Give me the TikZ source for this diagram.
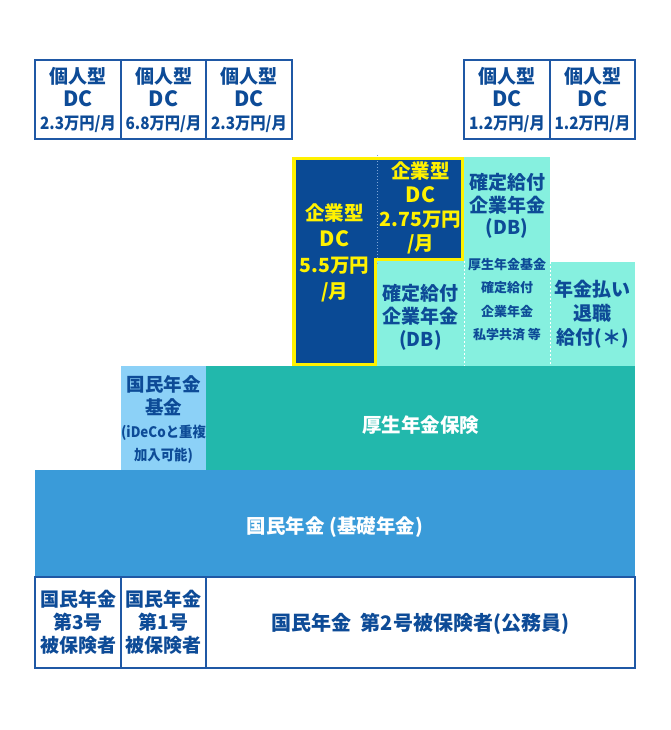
\documentclass[tikz,border=0pt]{standalone}
\usepackage{fontspec}
\usepackage{graphicx}
\newfontfamily\jp{Noto Sans CJK JP}
\definecolor{navytxt}{HTML}{0D4B97}
\definecolor{darkbox}{HTML}{0A4A95}
\definecolor{ylw}{HTML}{FFF100}
\definecolor{mint}{HTML}{86F0DF}
\definecolor{teal2}{HTML}{22B8AC}
\definecolor{ltblue}{HTML}{8CD1F7}
\definecolor{bandblue}{HTML}{3A9BD9}
\definecolor{boxline}{HTML}{1F58A5}
\definecolor{dotline}{HTML}{7FA6D8}
\newcommand\smtxt[1]{{\fontsize{17}{18}\selectfont\scalebox{0.9}[1]{#1}}}
\newcommand\tinytxt[1]{{\fontsize{14.5}{16}\selectfont\scalebox{0.92}[1]{#1}}}
\newcommand\dctxt{{\fontsize{21}{22}\selectfont DC}}
\begin{document}
\begin{tikzpicture}[x=1pt,y=-1pt,
  blk/.style={anchor=north west, inner sep=0pt, outer sep=0pt},
  txt/.style={text=navytxt, font=\jp\bfseries\fontsize{19}{23}\selectfont, align=center, inner sep=0pt},
  dcbox/.style={blk, draw=boxline, line width=1.3pt, fill=white, txt},
  wtxt/.style={txt, text=white},
  ytxt/.style={txt, text=ylw, font=\jp\bfseries\fontsize{19.5}{26}\selectfont}]
\useasboundingbox[fill=white] (0,0) rectangle (670,730);

% top personal DC boxes
\node[dcbox, minimum width=86, minimum height=79] (dca) at (35,60) {個人型\\\dctxt\\\smtxt{2.3万円/月}};
\node[dcbox, minimum width=85, minimum height=79] (dcb) at (121,60) {個人型\\\dctxt\\\smtxt{6.8万円/月}};
\node[dcbox, minimum width=86, minimum height=79] (dcc) at (206,60) {個人型\\\dctxt\\\smtxt{2.3万円/月}};
\node[dcbox, minimum width=86, minimum height=79] (dcd) at (464,60) {個人型\\\dctxt\\\smtxt{1.2万円/月}};
\node[dcbox, minimum width=85, minimum height=79] (dce) at (550,60) {個人型\\\dctxt\\\smtxt{1.2万円/月}};

% corporate DC (dark)
\node[blk, fill=darkbox, minimum width=85, minimum height=209] (dbig) at (292,157) {};
\node[blk, fill=darkbox, minimum width=87, minimum height=104] (dsmall) at (377,157) {};
\node[ytxt] (tbig) at (334.5,253) {企業型\\\dctxt\\5.5万円\\/月};
\node[ytxt, font=\jp\bfseries\fontsize{19.5}{24}\selectfont] (tsmall) at (420.5,208) {企業型\\\dctxt\\2.75万円\\/月};

% DB (mint)
\node[blk, fill=mint, minimum width=86, minimum height=209] (dbup) at (464,157) {};
\node[txt, font=\jp\bfseries\fontsize{19}{22.5}\selectfont] (tdbup) at (507,206) {確定給付\\企業年金\\(DB)};
\node[txt, font=\jp\bfseries\fontsize{13}{23.5}\selectfont] (tdbsub) at (507,299.5) {厚生年金基金\\確定給付\\企業年金\\私学共済 等};
\node[blk, fill=mint, minimum width=87, minimum height=105] (dblow) at (377,261) {};
\node[txt] (tdblow) at (420.5,317) {確定給付\\企業年金\\(DB)};
\node[blk, fill=mint, minimum width=85, minimum height=104] (nenkin) at (550,262) {};
\node[txt, font=\jp\bfseries\fontsize{19}{24}\selectfont] (tnenkin) at (592.5,314) {年金払い\\退職\\給付(＊)};

% separators
\draw[dotline, dotted, line width=1pt] ([yshift=2]dsmall.north west) -- ([yshift=-3]dsmall.south west);
\draw[white, dashed, dash pattern=on 2pt off 2pt, line width=0.8pt] (dbup.west |- dblow.north) -- (dbup.south west);
\draw[white, dashed, dash pattern=on 2pt off 2pt, line width=0.8pt] (nenkin.north west) -- (nenkin.south west);

% yellow outline
\draw[ylw, line width=3.5pt, line join=miter]
  ([shift={(1.75,1.75)}]dbig.north west) -- ([shift={(-1.75,1.75)}]dsmall.north east)
  -- ([shift={(-1.75,-1.75)}]dsmall.south east)
  -- ([shift={(-1.75,-1.75)}]dbig.south east |- dsmall.south east)
  -- ([shift={(-1.75,-1.75)}]dbig.south east)
  -- ([shift={(1.75,-1.75)}]dbig.south west) -- cycle;

% kosei nenkin / kikin
\node[blk, fill=teal2, minimum width=429, minimum height=104] (kosei) at (206,366) {};
\node[wtxt, font=\jp\bfseries\fontsize{19.5}{23}\selectfont] (tkosei) at (420.5,425) {厚生年金保険};
\node[blk, fill=ltblue, minimum width=85, minimum height=104] (kikin) at (121,366) {};
\node[txt, font=\jp\bfseries\fontsize{18.5}{23}\selectfont] (tkikin) at (163.5,420) {国民年金\\基金\\\tinytxt{(iDeCoと重複}\\\tinytxt{加入可能)}};

% kiso nenkin band
\node[blk, fill=bandblue, minimum width=600, minimum height=107] (kiso) at (35,470) {};
\node[wtxt, font=\jp\bfseries\fontsize{19.5}{23}\selectfont] (tkiso) at (335,527) {国民年金 (基礎年金)};

% bottom boxes
\node[dcbox, minimum width=86, minimum height=91] (b3) at (35,577) {国民年金\\第3号\\被保険者};
\node[dcbox, minimum width=85, minimum height=91] (b1) at (121,577) {国民年金\\第1号\\被保険者};
\node[dcbox, minimum width=429, minimum height=91] (b2) at (206,577) {};
\node[txt, font=\jp\bfseries\fontsize{20}{23}\selectfont] (tb2) at (420.5,624) {国民年金\ \ 第2号被保険者(公務員)};
\end{tikzpicture}
\end{document}
